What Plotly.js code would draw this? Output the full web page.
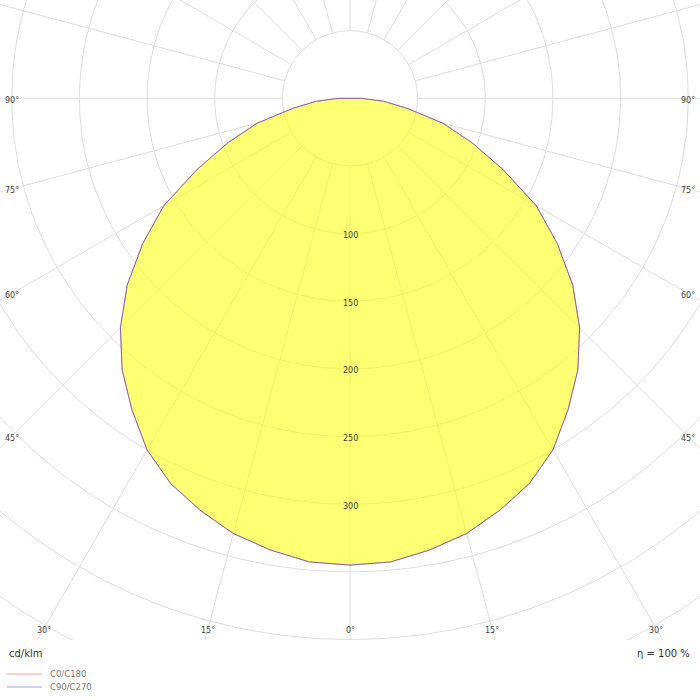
<!DOCTYPE html>
<html>
<head>
<meta charset="utf-8">
<script src="https://cdn.plot.ly/plotly-3.0.1.min.js"></script>
<style>html,body{margin:0;padding:0;background:#fff}#chart{width:700px;height:700px}</style>
</head>
<body>
<div id="chart"></div>
<script>
// ---- data (cd/klm) ----
const gammaAngles = [0,5,10,15,20,25,30,35,40,45,50,55,60,65,70,75,80,85,90];
const c0c180 =  [345,344,339,333,324,314,300,281,262,240,215,187,159,125,96,71,43,25,8.5];
const c90c270 = [345,344,339,333,324,314,300,281,262,240,215,187,159,125,96,71,43,25,8.5];
const radialTicks = [100,150,200,250,300];
const gridRadii = [50,100,150,200,250,300,350,400,450,500];
const angleLabelsDeg = [0,15,30,45,60,75,90];
const seriesNames = ['C0/C180','C90/C270'];
const seriesLegendColors = ['#ffbdbd','#bdbdff'];
const unitLabel = 'cd/klm';
const etaLabel = 'η = 100 %';

// ---- geometry ----
const W = 700, H = 700, plotH = 640;
const s = 1.353;             // px per cd/klm
const cxp = 350, cyp = 98.3; // centre in pixels
const xr = [-cxp / s, (W - cxp) / s];
const yr = [-(plotH - cyp) / s, cyp / s];
const rad = d => d * Math.PI / 180;
const px = (r, g) => r * Math.sin(rad(g));
const py = (r, g) => -r * Math.cos(rad(g));

// grid circles
const gcx = [], gcy = [];
gridRadii.forEach(r => {
  for (let a = 0; a <= 360; a += 1) { gcx.push(px(r, a)); gcy.push(py(r, a)); }
  gcx.push(null); gcy.push(null);
});
// radial lines
const glx = [], gly = [];
for (let a = 0; a < 360; a += 15) {
  glx.push(px(50, a), px(800, a), null);
  gly.push(py(50, a), py(800, a), null);
}

function curve(vals) {
  const x = [], y = [];
  for (let i = gammaAngles.length - 1; i >= 0; i--) { x.push(px(vals[i], -gammaAngles[i])); y.push(py(vals[i], -gammaAngles[i])); }
  for (let i = 1; i < gammaAngles.length; i++) { x.push(px(vals[i], gammaAngles[i])); y.push(py(vals[i], gammaAngles[i])); }
  x.push(x[0]); y.push(y[0]);
  return {x, y};
}
const cA = curve(c0c180), cB = curve(c90c270);

const gridColor = '#dedede';
const traces = [
  {type:'scatter', mode:'lines', x:gcx, y:gcy, line:{color:gridColor, width:1}, showlegend:false, hoverinfo:'skip'},
  {type:'scatter', mode:'lines', x:glx, y:gly, line:{color:gridColor, width:1}, showlegend:false, hoverinfo:'skip'},
  {type:'scatter', mode:'lines', x:cA.x, y:cA.y, fill:'toself', fillcolor:'rgba(255,255,0,0.55)', name:seriesNames[0],
   line:{color:'rgba(230,60,60,0.6)', width:1}, showlegend:false, hoverinfo:'skip'},
  {type:'scatter', mode:'lines', x:cB.x, y:cB.y, name:seriesNames[1], line:{color:'rgba(60,60,230,0.55)', width:1}, showlegend:false, hoverinfo:'skip'}
];

const tickFont = {family:'DejaVu Sans', size:8, color:'#444'};
const ann = [];
radialTicks.forEach(r => ann.push({x:0, y:-r, xref:'x', yref:'y', text:String(r), showarrow:false, font:tickFont, yshift:-2}));
// angle labels at intersection of rays with an inset rectangle
const xl = (cxp - 12) / s, yb = (629 - cyp) / s;
angleLabelsDeg.forEach(g => {
  [-1, 1].forEach(sg => {
    if (g === 0 && sg === 1) return;
    const sn = Math.sin(rad(g)), cs = Math.cos(rad(g));
    let t = Infinity;
    if (cs > 1e-9) t = Math.min(t, yb / cs);
    if (sn > 1e-9) t = Math.min(t, xl / sn);
    ann.push({x: sg * t * sn, y: -t * cs, xref:'x', yref:'y', text: g + '°', showarrow:false, font:tickFont,
      yshift: (g >= 45 ? -2 : -1)});
  });
});
ann.push({x:7/W, y:1-653/H, xref:'paper', yref:'paper', xanchor:'left', yanchor:'middle', text:unitLabel, showarrow:false,
  font:{family:'DejaVu Sans', size:10, color:'#333'}});
ann.push({x:692/W, y:1-653/H, xref:'paper', yref:'paper', xanchor:'right', yanchor:'middle', text:etaLabel, showarrow:false,
  font:{family:'DejaVu Sans', size:10, color:'#333'}});

// manual legend
const shapes = [];
const legY = [674, 687];
seriesNames.forEach((n, i) => {
  shapes.push({type:'line', xref:'paper', yref:'paper', x0:7/W, x1:42/W, y0:1-legY[i]/H, y1:1-legY[i]/H,
    line:{color:seriesLegendColors[i], width:1.5}});
  ann.push({x:48/W, y:1-legY[i]/H, xref:'paper', yref:'paper', xanchor:'left', yanchor:'middle', text:n, showarrow:false,
    font:{family:'DejaVu Sans', size:8.5, color:'#777'}});
});

const layout = {
  width:W, height:H, margin:{l:0,r:0,t:0,b:0}, paper_bgcolor:'#fff', plot_bgcolor:'#fff',
  xaxis:{range:xr, visible:false, fixedrange:true},
  yaxis:{range:yr, domain:[1 - plotH / H, 1], visible:false, fixedrange:true},
  showlegend:false,
  annotations:ann, shapes:shapes, hovermode:false
};
Plotly.newPlot('chart', traces, layout, {staticPlot:true, displayModeBar:false});
</script>
</body>
</html>
